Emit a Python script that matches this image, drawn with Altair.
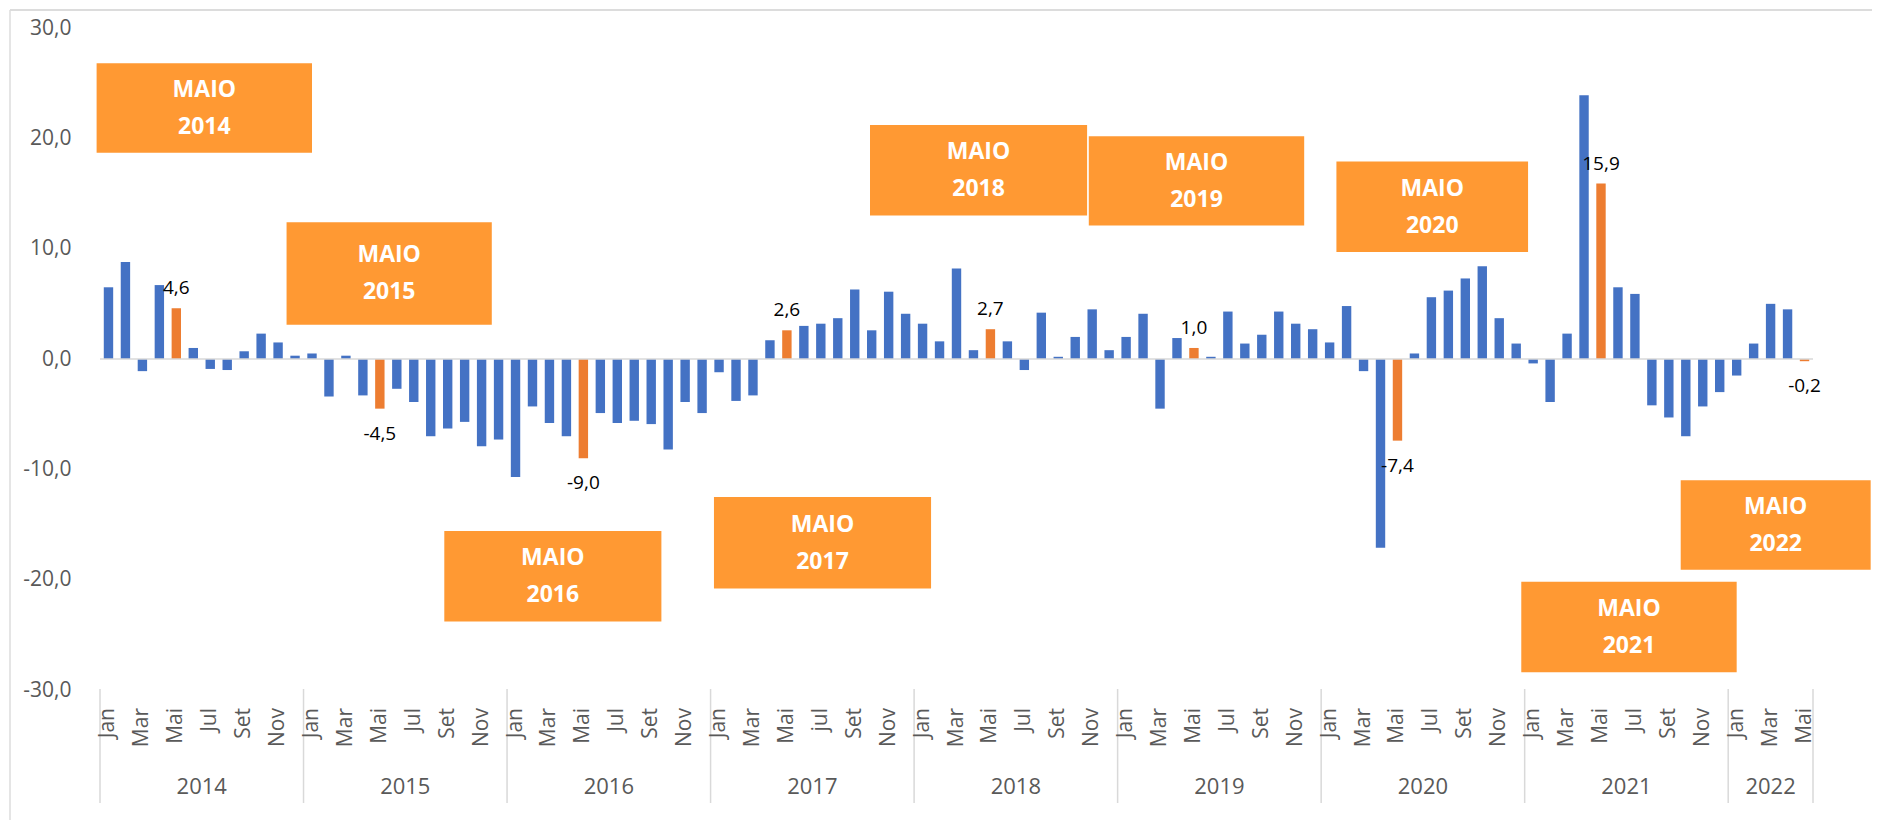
import altair as alt
import pandas as pd

# ---------------- data ----------------
years = ["2014", "2015", "2016", "2017", "2018", "2019", "2020", "2021", "2022"]
months = ["Jan", "Fev", "Mar", "Abr", "Mai", "Jun", "Jul", "Ago", "Set", "Out", "Nov", "Dez"]

v2014 = [6.5, 8.8, -1.1, 6.7, 4.6, 1.0, -0.9, -1.0, 0.7, 2.3, 1.5, 0.3]
v2015 = [0.5, -3.4, 0.3, -3.3, -4.5, -2.7, -3.9, -7.0, -6.3, -5.7, -7.9, -7.3]
v2016 = [-10.7, -4.3, -5.8, -7.0, -9.0, -4.9, -5.8, -5.6, -5.9, -8.2, -3.9, -4.9]
v2017 = [-1.2, -3.8, -3.3, 1.7, 2.6, 3.0, 3.2, 3.7, 6.3, 2.6, 6.1, 4.1]
v2018 = [3.2, 1.6, 8.2, 0.8, 2.7, 1.6, -1.0, 4.2, 0.2, 2.0, 4.5, 0.8]
v2019 = [2.0, 4.1, -4.5, 1.9, 1.0, 0.2, 4.3, 1.4, 2.2, 4.3, 3.2, 2.7]
v2020 = [1.5, 4.8, -1.1, -17.1, -7.4, 0.5, 5.6, 6.2, 7.3, 8.4, 3.7, 1.4]
v2021 = [-0.4, -3.9, 2.3, 23.9, 15.9, 6.5, 5.9, -4.2, -5.3, -7.0, -4.3, -3.0]
v2022 = [-1.5, 1.4, 5.0, 4.5, -0.2]
series = [v2014, v2015, v2016, v2017, v2018, v2019, v2020, v2021, v2022]

tick_labels = ["Jan", "", "Mar", "", "Mai", "", "Jul", "", "Set", "", "Nov", ""]
tick_labels_2017 = ["Jan", "", "Mar", "", "Mai", "", "jul", "", "Set", "", "Nov", ""]

y_ticks = [-30, -20, -10, 0, 10, 20, 30]

box_years = ["2014", "2015", "2016", "2017", "2018", "2019", "2020", "2021", "2022"]
box_x1 = [-0.2, 11.0, 20.3, 36.2, 45.4, 58.3, 72.9, 83.8, 93.2]
box_x2 = [12.5, 23.1, 33.1, 49.0, 58.2, 71.0, 84.2, 96.5, 104.4]
box_top = [26.8, 12.4, -15.6, -12.5, 21.2, 20.2, 17.9, -20.2, -11.0]
box_bottom = [18.7, 3.1, -23.8, -20.8, 13.0, 12.1, 9.7, -28.4, -19.1]

# ---------------- tables ----------------
rows = []
idx = 0
year_rows = []
bounds = [0]
for y, vals in zip(years, series):
    start = idx
    labs = tick_labels_2017 if y == "2017" else tick_labels
    for m, v in enumerate(vals):
        rows.append({"idx": idx, "ano": y, "mes": months[m], "v": v, "tick": labs[m]})
        idx += 1
    year_rows.append({"ano": y, "mid": (start + idx) / 2})
    bounds.append(idx)

df = pd.DataFrame(rows)
df_years = pd.DataFrame(year_rows)
df_bounds = pd.DataFrame({"b": bounds})
df_boxes = pd.DataFrame({"ano": box_years, "x1": box_x1, "x2": box_x2,
                         "top": box_top, "bottom": box_bottom})

W, H = 1723, 662
FONT = "Open Sans"
xs = alt.Scale(domain=[0, idx], nice=False, zero=False)
ys = alt.Scale(domain=[-30, 30], nice=False, zero=False)
y_axis = alt.Axis(
    values=y_ticks, domain=False, ticks=False, grid=False,
    labelExpr="(datum.value < 0 ? '-' : '') + replace(format(abs(datum.value), '.1f'), '.', ',')",
    labelFontSize=21, labelColor="#595959", labelFont=FONT, labelPadding=24,
    title=None)


def X(field):
    return alt.X(field, scale=xs, axis=None)


def Y(field):
    return alt.Y(field, scale=ys, axis=y_axis)


base = alt.Chart(df).transform_calculate(pos="datum.idx + 0.5")

bars = base.mark_bar(orient="vertical", size=9.4).encode(
    x=X("pos:Q"),
    y=alt.Y("v:Q", scale=ys, stack=None, axis=y_axis),
    color=alt.condition("datum.mes == 'Mai'", alt.value("#ED7D31"), alt.value("#4472C4")),
)

zero = alt.Chart(pd.DataFrame({"a": [0], "b": [idx], "z": [0]})).mark_rule(
    color="#d9d9d9", strokeWidth=1.5).encode(
    x=X("a:Q"), x2="b:Q", y=Y("z:Q"))

lab_expr = "(datum.v < 0 ? '-' : '') + replace(format(abs(datum.v), '.1f'), '.', ',')"
may = base.transform_filter("datum.mes == 'Mai'").transform_calculate(lab=lab_expr)
lab_pos = may.transform_filter("datum.v >= 0").mark_text(
    font=FONT, fontSize=19, color="#000000", baseline="middle", dy=-20).encode(
    x=X("pos:Q"), y=Y("v:Q"), text="lab:N")
lab_neg = may.transform_filter("datum.v < 0").mark_text(
    font=FONT, fontSize=19, color="#000000", baseline="middle", dy=25).encode(
    x=X("pos:Q"), y=Y("v:Q"), text="lab:N")

boxes = alt.Chart(df_boxes).mark_rect(color="#FF9933").encode(
    x=X("x1:Q"), x2="x2:Q", y=Y("top:Q"), y2="bottom:Q")
box_base = alt.Chart(df_boxes).transform_calculate(
    cx="(datum.x1 + datum.x2) / 2", cy="(datum.top + datum.bottom) / 2",
    t1="'MAIO'")
box_t1 = box_base.mark_text(font=FONT, fontSize=23, fontWeight="bold", color="white",
                            baseline="middle", dy=-18).encode(
    x=X("cx:Q"), y=Y("cy:Q"), text="t1:N")
box_t2 = box_base.mark_text(font=FONT, fontSize=23, fontWeight="bold", color="white",
                            baseline="middle", dy=19).encode(
    x=X("cx:Q"), y=Y("cy:Q"), text="ano:N")

month_labels = base.transform_filter("datum.tick != ''").mark_text(
    font=FONT, fontSize=21, color="#595959", angle=270, align="right", baseline="middle").encode(
    x=X("pos:Q"), y=alt.value(H + 18), text="tick:N")

year_labels = alt.Chart(df_years).mark_text(
    font=FONT, fontSize=22, color="#595959", baseline="middle").encode(
    x=X("mid:Q"), y=alt.value(H + 97), text="ano:N")

seps = alt.Chart(df_bounds).mark_rule(color="#d9d9d9", strokeWidth=1.5).encode(
    x=X("b:Q"), y=alt.value(H - 1), y2=alt.value(H + 113))

frame = alt.Chart(pd.DataFrame({"k": [0]})).mark_rule(color="#dcdcdc", strokeWidth=1.5).encode(
    x=alt.value(-85), y=alt.value(-18), y2=alt.value(H + 130))
frame_top = alt.Chart(pd.DataFrame({"k": [0]})).mark_rule(color="#dcdcdc", strokeWidth=2).encode(
    x=alt.value(-85), x2=alt.value(W + 54), y=alt.value(-18))

chart = alt.layer(
    bars, frame, frame_top, zero, seps, boxes, box_t1, box_t2, lab_pos, lab_neg,
    month_labels, year_labels,
).properties(
    width=W, height=H,
    autosize=alt.AutoSizeParams(type="none"),
    padding={"left": 87, "top": 20, "right": 54, "bottom": 130},
    background="white",
).configure_view(strokeWidth=0, stroke="transparent")

chart.save("out.html", embed_options={"renderer": "svg", "actions": False})
